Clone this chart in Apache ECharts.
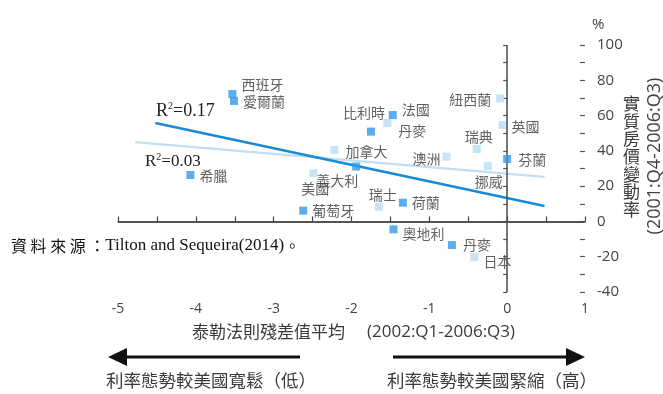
<!DOCTYPE html>
<html>
<head>
<meta charset="utf-8">
<script src="https://cdn.jsdelivr.net/npm/echarts@6/dist/echarts.min.js"></script>
<style>
  html, body { margin: 0; padding: 0; background: #fff; }
  #chart { width: 663px; height: 394px; }
</style>
</head>
<body>
<div id="chart"></div>
<script>
// Euro-area style group (dark squares) — Taylor-rule residual vs real house price change
const darkNames = ['西班牙', '愛爾蘭', '希臘', '法國', '比利時', '義大利', '葡萄牙', '荷蘭', '奧地利', '丹麥', '芬蘭'];
const darkX     = [-3.53, -3.51, -4.07, -1.47, -1.75, -1.94, -2.62, -1.34, -1.46, -0.71, 0.00];
const darkY     = [72.2, 68.3, 26.3, 60.3, 50.9, 31.1, 6.1, 10.6, -4.5, -13.4, 35.4];

// Other economies (light squares)
const lightNames = ['丹麥', '加拿大', '澳洲', '瑞典', '紐西蘭', '英國', '挪威', '瑞士', '日本', '美國'];
const lightX     = [-1.54, -2.22, -0.78, -0.39, -0.09, -0.06, -0.25, -1.65, -0.42, -2.49];
const lightY     = [55.8, 40.5, 36.7, 41.0, 69.8, 54.6, 31.4, 8.3, -20.2, 27.3];

// Fitted trend lines (end points)
const darkFitX  = [-4.52, 0.48];
const darkFitY  = [55.8, 8.7];
const lightFitX = [-4.78, 0.48];
const lightFitY = [45.0, 25.3];

const darkR2  = '0.17';
const lightR2 = '0.03';

// Axis ranges and tick labels
const xTicks = [-5, -4, -3, -2, -1, 0, 1];
const yMin = -40, yMax = 100;

// Label placement for each country marker: [position, [dx, dy]]
const darkLabelPos = {
  '西班牙': ['right', [0, -9]],
  '愛爾蘭': ['right', [0, 1]],
  '希臘':   ['right', [0, 1]],
  '法國':   ['right', [0, -5]],
  '比利時': ['top', [-7, -3]],
  '義大利': ['bottom', [-19, -2]],
  '葡萄牙': ['right', [0, 0]],
  '荷蘭':   ['right', [0, 0]],
  '奧地利': ['right', [0, 4]],
  '丹麥':   ['right', [2, 0]],
  '芬蘭':   ['right', [2, 1]]
};
const lightLabelPos = {
  '丹麥':   ['right', [2, 8]],
  '加拿大': ['right', [2, 2]],
  '澳洲':   ['left', [3, 2]],
  '瑞典':   ['top', [2, 4]],
  '紐西蘭': ['left', [0, 1]],
  '英國':   ['right', [0, 2]],
  '挪威':   ['bottom', [1, 0]],
  '瑞士':   ['top', [4, 4]],
  '日本':   ['right', [0, 5]],
  '美國':   ['bottom', [2, -1]]
};

const CJK = '"Noto Sans CJK TC", "Noto Sans CJK SC", sans-serif';
const NUM = '"Open Sans", "DejaVu Sans", sans-serif';
const SERIF = '"Liberation Serif", "DejaVu Serif", serif';
const INK = '#3a3a3a';
const DARK = '#3399e8';
const LIGHT = '#b9dcf5';

function points(names, xs, ys, placement) {
  return names.map((n, i) => {
    const p = placement[n] || ['right', [0, 0]];
    return {
      name: n,
      value: [xs[i], ys[i]],
      label: { position: p[0], offset: p[1] }
    };
  });
}

function fit(xs, ys) {
  return xs.map((x, i) => [x, ys[i]]);
}

const chart = echarts.init(document.getElementById('chart'), null, { renderer: 'canvas' });

const labelStyle = {
  show: true,
  formatter: '{b}',
  color: INK,
  fontSize: 14,
  fontFamily: CJK,
  distance: 5
};

chart.setOption({
  animation: false,
  backgroundColor: '#ffffff',
  grid: { left: 118, right: 78, top: 45, bottom: 102, containLabel: false },
  xAxis: {
    type: 'value',
    min: -5,
    max: 1,
    interval: 0.5,
    axisLine: { show: true, lineStyle: { color: '#444', width: 1.5 } },
    axisTick: { show: true, inside: true, length: 5, lineStyle: { color: '#444', width: 1.2 } },
    axisLabel: {
      color: '#444',
      fontSize: 14,
      fontFamily: NUM,
      margin: 10,
      formatter: v => (xTicks.indexOf(v) >= 0 ? String(v) : '')
    },
    splitLine: { show: false }
  },
  yAxis: [
    {
      type: 'value',
      position: 'left',
      min: yMin,
      max: yMax,
      interval: 10,
      axisLine: { show: false },
      axisTick: { show: true, length: 4, lineStyle: { color: '#555', width: 1.2 } },
      axisLabel: { show: false },
      splitLine: { show: false }
    },
    {
      type: 'value',
      position: 'right',
      min: yMin,
      max: yMax,
      interval: 20,
      axisLine: { show: false },
      axisTick: { show: true, inside: true, length: 5, lineStyle: { color: '#555', width: 1.2 } },
      minorTick: { show: true, splitNumber: 2, length: 5, lineStyle: { color: '#555', width: 1.2 } },
      axisLabel: { color: '#444', fontSize: 15, fontFamily: NUM, margin: 12 },
      splitLine: { show: false }
    }
  ],
  series: [
    {
      type: 'line',
      data: fit(lightFitX, lightFitY),
      symbol: 'none',
      lineStyle: { color: '#c2def3', width: 2.2 },
      z: 2,
      markLine: {
        silent: true,
        symbol: 'none',
        label: { show: false },
        lineStyle: { color: '#4a4a4a', width: 1.5, type: 'solid' },
        data: [{ yAxis: 0 }, { xAxis: 0 }]
      }
    },
    {
      type: 'line',
      data: fit(darkFitX, darkFitY),
      symbol: 'none',
      lineStyle: { color: '#1a8ad6', width: 2.6 },
      z: 3
    },
    {
      type: 'scatter',
      symbol: 'rect',
      symbolSize: 8,
      itemStyle: { color: LIGHT },
      label: labelStyle,
      data: points(lightNames, lightX, lightY, lightLabelPos),
      z: 4
    },
    {
      type: 'scatter',
      symbol: 'rect',
      symbolSize: 8,
      itemStyle: { color: DARK },
      label: labelStyle,
      data: points(darkNames, darkX, darkY, darkLabelPos),
      z: 5
    }
  ],
  graphic: [
    // unit mark above the right axis
    { type: 'text', left: 592, top: 17, style: { text: '%', fontSize: 15, fontFamily: NUM, fill: '#444' } },
    // right axis title (vertical)
    {
      type: 'text', left: 623, top: 95,
      style: {
        text: '實\n質\n房\n價\n變\n動\n率',
        fontSize: 17, lineHeight: 17.6, fontFamily: CJK, fill: INK
      }
    },
    {
      type: 'text', x: 655, y: 156, rotation: Math.PI / 2,
      style: {
        text: '(2001:Q4-2006:Q3)', fontSize: 18, fontFamily: NUM, fill: '#444',
        align: 'center', verticalAlign: 'middle'
      }
    },
    // goodness-of-fit notes
    {
      type: 'text', left: 156, top: 101,
      style: {
        text: '{r|R}{s|2}{r|=' + darkR2 + '}',
        rich: {
          r: { fontSize: 18, fontFamily: SERIF, fill: '#222', lineHeight: 20 },
          s: { fontSize: 10, fontFamily: SERIF, fill: '#222', verticalAlign: 'top', lineHeight: 20 }
        }
      }
    },
    {
      type: 'text', left: 145, top: 152,
      style: {
        text: '{r|R}{s|2}{r|=' + lightR2 + '}',
        rich: {
          r: { fontSize: 17, fontFamily: SERIF, fill: '#222', lineHeight: 20 },
          s: { fontSize: 10, fontFamily: SERIF, fill: '#222', verticalAlign: 'top', lineHeight: 20 }
        }
      }
    },
    // source note
    {
      type: 'text', left: 11, top: 237,
      style: {
        text: '{c|資 料 來 源 ：}{e|Tilton and Sequeira(2014)}{c|。}',
        rich: {
          c: { fontSize: 16, fontFamily: CJK, fill: '#111', lineHeight: 20 },
          e: { fontSize: 17, fontFamily: SERIF, fill: '#111', lineHeight: 20 }
        }
      }
    },
    // x axis title
    {
      type: 'text', left: 192, top: 322,
      style: { text: '泰勒法則殘差值平均', fontSize: 17, fontFamily: CJK, fill: INK, lineHeight: 20 }
    },
    {
      type: 'text', left: 367, top: 322,
      style: { text: '(2002:Q1-2006:Q3)', fontSize: 17, fontFamily: NUM, fill: INK, lineHeight: 20 }
    },
    // direction arrows
    { type: 'line', shape: { x1: 124, y1: 357, x2: 300, y2: 357 }, style: { stroke: '#111', lineWidth: 3 } },
    { type: 'polygon', shape: { points: [[108, 357], [127, 348], [127, 366]] }, style: { fill: '#111' } },
    { type: 'line', shape: { x1: 393, y1: 357, x2: 569, y2: 357 }, style: { stroke: '#111', lineWidth: 3 } },
    { type: 'polygon', shape: { points: [[585, 357], [566, 348], [566, 366]] }, style: { fill: '#111' } },
    {
      type: 'text', left: 106, top: 372,
      style: { text: '利率態勢較美國寬鬆（低）', fontSize: 17.5, fontFamily: CJK, fill: INK }
    },
    {
      type: 'text', left: 387, top: 372,
      style: { text: '利率態勢較美國緊縮（高）', fontSize: 17.5, fontFamily: CJK, fill: INK }
    }
  ]
});
</script>
</body>
</html>
